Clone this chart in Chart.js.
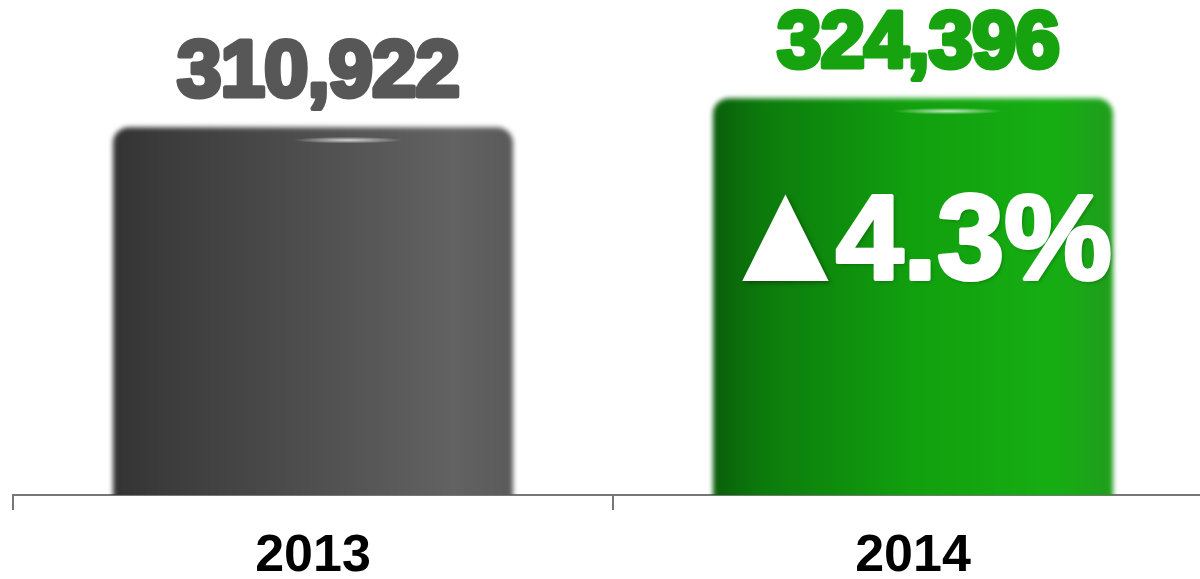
<!DOCTYPE html>
<html lang="es">
<head>
  <meta charset="UTF-8" />
  <title>2013 vs 2014</title>
  <script src="https://cdn.jsdelivr.net/npm/chart.js"></script>
  <style>
    body {
      margin: 0;
      background: #fff;
      overflow: hidden;
    }
    /* a bit taller than the window: the empty strip under the year labels is cut off */
    .wrap {
      width: 1213px;
      height: 604px;
      position: relative;
    }
  </style>
</head>
<body>
<div class="wrap">
  <canvas id="barChart"></canvas>
</div>

<script>
// data
const years = ['2013', '2014'];
const totals = [310922, 324396];
const barColors = [
  ['#333333', '#3b3b3b', '#4f4f4f', '#626262', '#5a5a5a'],
  ['#0a5e0a', '#0c7a0c', '#11a00e', '#16ad13', '#1f9e1c']
];
const labelColors = ['#575757', '#17a20f'];

const fmt = n => n.toLocaleString('en-US');
const growth = ((totals[1] - totals[0]) / totals[0] * 100).toFixed(1);

// horizontal shading for each bar, built from the bar's own position
function barFill(ctx) {
  const chart = ctx.chart;
  const xs = chart.scales.x;
  if (!chart.chartArea || !xs) return barColors[ctx.dataIndex][2];
  const cx = xs.getPixelForValue(ctx.dataIndex);
  const half = (xs.width / years.length) * 0.6667 / 2;
  const g = chart.ctx.createLinearGradient(cx - half, 0, cx + half, 0);
  const stops = barColors[ctx.dataIndex];
  g.addColorStop(0, stops[0]);
  g.addColorStop(0.12, stops[1]);
  g.addColorStop(0.5, stops[2]);
  g.addColorStop(0.85, stops[3]);
  g.addColorStop(1, stops[4]);
  return g;
}

// soft edges like the original 3D bars, plus the small glint on top
const softBars = {
  id: 'softBars',
  beforeDatasetsDraw(chart) {
    chart.ctx.save();
    chart.ctx.filter = 'blur(2.5px)';
  },
  afterDatasetsDraw(chart) {
    chart.ctx.restore();
    const ctx = chart.ctx;
    chart.getDatasetMeta(0).data.forEach(bar => {
      const gx = bar.x + 35, gy = bar.y + 13;
      ctx.save();
      ctx.translate(gx, gy);
      ctx.scale(1, 0.06);
      const rg = ctx.createRadialGradient(0, 0, 0, 0, 0, 55);
      rg.addColorStop(0, 'rgba(255,255,255,0.75)');
      rg.addColorStop(1, 'rgba(255,255,255,0)');
      ctx.fillStyle = rg;
      ctx.beginPath();
      ctx.arc(0, 0, 55, 0, Math.PI * 2);
      ctx.fill();
      ctx.restore();
    });
  }
};

// numbers above the bars + the growth badge on 2014
const barLabels = {
  id: 'barLabels',
  afterDraw(chart) {
    const ctx = chart.ctx;
    const bars = chart.getDatasetMeta(0).data;
    ctx.save();
    ctx.textAlign = 'center';
    ctx.textBaseline = 'alphabetic';
    ctx.lineJoin = 'round';
    bars.forEach((bar, i) => {
      ctx.font = 'bold 80px "Liberation Sans", Arial, sans-serif';
      ctx.letterSpacing = '-1px';
      ctx.fillStyle = labelColors[i];
      ctx.strokeStyle = labelColors[i];
      ctx.lineWidth = 5;
      const txt = fmt(totals[i]);
      ctx.fillText(txt, bar.x + 5, bar.y - 31);
      ctx.strokeText(txt, bar.x + 5, bar.y - 31);
    });

    // growth badge
    const b = bars[1];
    const base = b.y + 181;
    ctx.shadowColor = 'rgba(0,0,0,0.35)';
    ctx.shadowBlur = 4;
    ctx.shadowOffsetX = 2;
    ctx.shadowOffsetY = 2;
    ctx.fillStyle = '#ffffff';
    ctx.strokeStyle = '#ffffff';
    ctx.textAlign = 'left';
    ctx.font = 'bold 113px "DejaVu Sans", sans-serif';
    ctx.letterSpacing = '0px';
    ctx.fillText('\u25B2', b.x - 171, base - 12);
    ctx.font = 'bold 121px "Liberation Sans", Arial, sans-serif';
    ctx.letterSpacing = '0px';
    ctx.lineWidth = 4;
    ctx.fillText(growth + '%', b.x - 77, base);
    ctx.shadowColor = 'transparent';
    ctx.strokeText(growth + '%', b.x - 77, base);
    ctx.restore();
  }
};

new Chart(document.getElementById('barChart'), {
  type: 'bar',
  data: {
    labels: years,
    datasets: [{
      data: totals,
      backgroundColor: barFill,
      borderWidth: 0,
      borderRadius: 16,
      borderSkipped: false,
      barPercentage: 1,
      categoryPercentage: 0.6667
    }]
  },
  options: {
    responsive: true,
    maintainAspectRatio: false,
    animation: false,
    layout: { padding: { left: 13, right: 0, top: 0, bottom: 0 } },
    plugins: {
      legend: { display: false },
      tooltip: { enabled: false }
    },
    scales: {
      y: {
        display: false,
        min: 140000,
        max: 370000
      },
      x: {
        grid: {
          drawOnChartArea: false,
          drawTicks: true,
          tickLength: 15,
          color: '#777777',
          lineWidth: 2
        },
        border: { display: true, color: '#777777', width: 2 },
        ticks: {
          color: '#000000',
          padding: 25,
          font: { family: '"Liberation Sans", Arial, sans-serif', size: 52, weight: 'bold', lineHeight: 0.846 }
        }
      }
    }
  },
  plugins: [softBars, barLabels]
});
</script>
</body>
</html>
